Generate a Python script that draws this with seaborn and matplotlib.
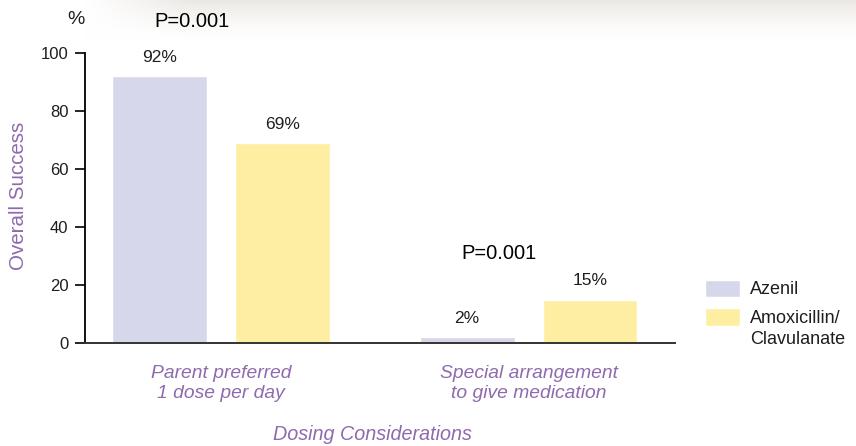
import numpy as np
import pandas as pd
import matplotlib
matplotlib.use('Agg')
import matplotlib.pyplot as plt
import seaborn as sns

# donnees
considerations = ['Parent preferred\n1 dose per day', 'Special arrangement\nto give medication']
drugs = ['Azenil', 'Amoxicillin/Clavulanate']
azenil = [92, 2]
amoxi = [69, 15]
pct_labels_azenil = ['92%', '2%']
pct_labels_amoxi = ['69%', '15%']
p_values = ['P=0.001', 'P=0.001']
y_ticks = [0, 20, 40, 60, 80, 100]

df = pd.DataFrame({
    'consideration': considerations * 2,
    'drug': [drugs[0]] * 2 + [drugs[1]] * 2,
    'value': azenil + amoxi,
})

lavender = '#D7D7EC'
yellow = '#FEEEA1'
purple = '#8E6AAE'
dark = '#1E1E1E'

sns.set_style('white')
plt.rcParams['font.family'] = ['Liberation Sans', 'DejaVu Sans']

fig = plt.figure(figsize=(8.56, 4.46), dpi=100)

# fond flou en haut (tres leger)
bg = fig.add_axes([0, 0, 1, 1], zorder=-10)
h, w = 446, 856
yy = np.linspace(0, 1, h)[:, None]
xx = np.linspace(0, 1, w)[None, :]
fade = np.clip(1 - yy / 0.09, 0, 1) ** 1.5 * np.clip((xx - 0.1) / 0.12, 0, 1)
tone = np.array([0.925, 0.91, 0.895])
img = np.ones((h, w, 3)) * (1 - fade[..., None]) + tone * fade[..., None]
bg.imshow(img, aspect='auto', extent=[0, 1, 0, 1])
bg.axis('off')

ax = fig.add_axes([85 / 856, 1 - 343 / 446, 590 / 856, 290 / 446])
ax.patch.set_alpha(0)
sns.barplot(data=df, x='consideration', y='value', hue='drug',
            palette=[lavender, yellow], saturation=1, width=0.8, gap=0.23,
            ax=ax)

ax.set_xlim(-0.443, 1.476)
ax.set_ylim(0, 100)
ax.set_yticks(y_ticks)
ax.set_xlabel('')
ax.set_ylabel('')

# etiquettes des barres
for cont, labels in zip(ax.containers, [pct_labels_azenil, pct_labels_amoxi]):
    ax.bar_label(cont, labels=labels, padding=8, fontsize=12.5, color=dark)

ax.text(-0.094, 110.7, p_values[0], ha='center', va='center', fontsize=14.5,
        color='black', clip_on=False)
ax.text(0.903, 30.7, p_values[1], ha='center', va='center', fontsize=14.5,
        color='black', clip_on=False)

sns.despine(ax=ax)
ax.spines['left'].set_color('black')
ax.spines['left'].set_linewidth(1.3)
ax.spines['bottom'].set_color('#333333')
ax.spines['bottom'].set_linewidth(1.4)
ax.tick_params(axis='y', length=7, width=1.2, color='black', pad=5,
               labelsize=12, labelcolor=dark, left=True)
ax.tick_params(axis='x', length=0, pad=16, labelsize=13.9, labelcolor=purple)
for lab in ax.get_xticklabels():
    lab.set_fontstyle('italic')
    lab.set_linespacing(1.2)

fig.text(76 / 856, 1 - 19 / 446, '%', ha='center', va='center', fontsize=14,
         color=dark)
fig.text(19 / 856, 1 - 196 / 446, 'Overall Success', rotation=90,
         ha='center', va='center', fontsize=14.8, color=purple)
fig.text(372 / 856, 1 - 435 / 446, 'Dosing Considerations', ha='center',
         va='center', fontsize=14.2, color=purple, style='italic')

# legende : deuxieme libelle sur deux lignes, carre aligne sur la premiere
handles, _ = ax.get_legend_handles_labels()
anchor_x = (705 - 85) / 590
anchor_y = (343 - 279) / 290
leg_kw = dict(loc='upper left', frameon=False, fontsize=13, handlelength=1.95,
              handleheight=1.1, handletextpad=0.55, labelspacing=0.55,
              borderaxespad=0, borderpad=0, labelcolor=dark)
leg = ax.legend(handles, ['Azenil', 'Amoxicillin/'],
                bbox_to_anchor=(anchor_x, anchor_y), **leg_kw)
fig.canvas.draw()
r = fig.canvas.get_renderer()
b1 = leg.get_texts()[0].get_window_extent(r)
c1 = (b1.y0 + b1.y1) / 2
dy = (446 - 290) - c1
leg.remove()
leg = ax.legend(handles, ['Azenil', 'Amoxicillin/'],
                bbox_to_anchor=(anchor_x, anchor_y + dy / 290), **leg_kw)
fig.canvas.draw()
b2 = leg.get_texts()[1].get_window_extent(r)
fig.text(b2.x0 / 856, (b2.y0 - 21) / 446, 'Clavulanate', ha='left',
         va='bottom', fontsize=13, color=dark)

fig.savefig('out.png', dpi=100)
